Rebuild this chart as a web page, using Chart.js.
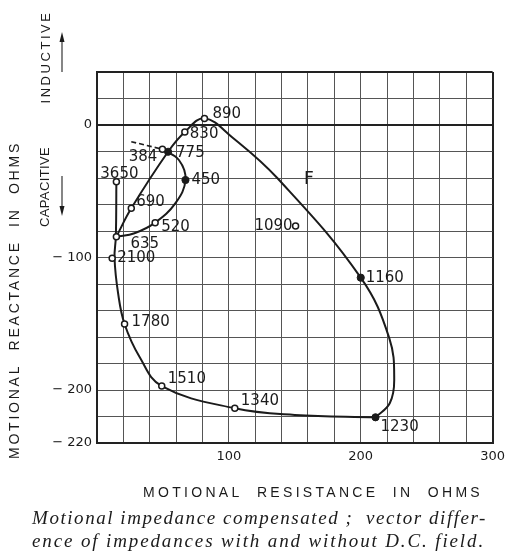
<!DOCTYPE html>
<html><head><meta charset="utf-8">
<script src="https://cdn.jsdelivr.net/npm/chart.js@4/dist/chart.umd.min.js"></script>
<style>html,body{margin:0;padding:0;background:#fff;overflow:hidden}canvas{display:block}</style>
</head><body>
<canvas id="c" width="511" height="556"></canvas>
<script>
// ---------- data ----------
// labelled measurement points (frequency, motional resistance, motional reactance)
const freqLabels = ['384','450','520','635','690','775','830','890','1090','1160','1230','1340','1510','1780','2100','3650'];
const resistance = [49.6, 67.1, 44.1, 14.7, 26.0, 53.9, 66.6, 81.5, 150.6, 200.0, 211.2, 104.5, 49.1, 20.9, 11.5, 14.7];
const reactance  = [-18.3, -41.5, -73.7, -84.3, -62.9, -20.2, -5.3, 5.0, -76.2, -115.2, -220.6, -213.8, -197.0, -150.2, -100.6, -42.8];
const filledPoints = ['450','775','1160','1230'];

// traced curve
const innerLoopR = [49.6, 62.1, 67.1, 59.5, 44.1, 28.4, 14.7];
const innerLoopX = [-18.3, -26.4, -41.5, -59.0, -73.7, -81.7, -84.3];
const outerLoopR = [14.7, 26.0, 53.9, 66.6, 81.5, 102.0, 136.9, 200.0, 221.7, 225.4, 222.0, 211.2];
const outerLoopX = [-84.3, -62.9, -20.2, -5.3, 5.0, -8.8, -40.2, -115.2, -161.0, -192.5, -210.0, -220.6];
const lowerLoopR = [211.2, 150.0, 104.5, 49.1, 32.2, 20.9, 16.0, 13.3, 14.3, 14.7];
const lowerLoopX = [-220.6, -218.8, -213.8, -197.0, -174.9, -150.2, -127.0, -100.6, -84.0, -42.8];
const dashedR = [26.0, 49.6];
const dashedX = [-12.6, -18.3];

const curveName = 'F';
const curveNameAt = [160.6, -41.5];

// axis ticks
const xTickLabels = {100: '100', 200: '200', 300: '300'};
const yTickLabels = {'0': '0', '-100': '\u2212 100', '-200': '\u2212 200', '-240': '\u2212 220'};

// texts
const xTitle = 'MOTIONAL  RESISTANCE  IN  OHMS';
const yTitle = 'MOTIONAL  REACTANCE  IN  OHMS';
const upLabel = 'INDUCTIVE';
const downLabel = 'CAPACITIVE';
const caption1 = 'Motional impedance compensated ;  vector differ-';
const caption2 = 'ence of impedances with and without D.C. field.';

// ---------- layout / styling ----------
const INK = '#1b1b1b';
const labelOffsets = { // dx, dy, align
  '384': [-5, 8, 'right'], '450': [6, 0, 'left'], '520': [6, 4, 'left'], '635': [14, 7, 'left'],
  '690': [5, -6, 'left'], '775': [8, 1, 'left'], '830': [5, 2, 'left'], '890': [8, -4, 'left'],
  '1090': [-3, 0, 'right'], '1160': [5, 0, 'left'], '1230': [5, 10, 'left'], '1340': [6, -7, 'left'],
  '1510': [6, -7, 'left'], '1780': [7, -2, 'left'], '2100': [5, 0, 'left'], '3650': [3, -8, 'center']
};

const zip = (a, b) => a.map((v, i) => ({x: v, y: b[i]}));
const allPts = zip(resistance, reactance).map((p, i) => ({...p, f: freqLabels[i]}));
const openPts = allPts.filter(p => !filledPoints.includes(p.f));
const solidPts = allPts.filter(p => filledPoints.includes(p.f));

const lineDs = (data, tension) => ({
  type: 'line', data, borderColor: INK, borderWidth: 2, pointRadius: 0, tension,
  fill: false, showLine: true, order: 2
});

function spaced(ctx, text, x, y, width) {
  ctx.letterSpacing = '0px';
  const w0 = ctx.measureText(text).width;
  ctx.letterSpacing = ((width - w0) / text.length) + 'px';
  ctx.fillText(text, x, y);
  ctx.letterSpacing = '0px';
}
function vertical(ctx, text, cx, cy, width, font) {
  ctx.save();
  ctx.translate(cx, cy);
  ctx.rotate(-Math.PI / 2);
  ctx.font = font;
  ctx.textAlign = 'left';
  ctx.textBaseline = 'middle';
  spaced(ctx, text, -width / 2, 0, width);
  ctx.restore();
}

const decor = {
  id: 'decor',
  afterDatasetsDraw(chart) {
    const ctx = chart.ctx, xs = chart.scales.x, ys = chart.scales.y;
    ctx.save();
    ctx.fillStyle = INK;
    ctx.strokeStyle = INK;
    ctx.font = '15px "DejaVu Sans"';
    ctx.textBaseline = 'middle';
    allPts.forEach(p => {
      const o = labelOffsets[p.f];
      ctx.textAlign = o[2];
      ctx.fillText(p.f, xs.getPixelForValue(p.x) + o[0], ys.getPixelForValue(p.y) + o[1]);
    });
    ctx.font = '17px "DejaVu Sans"';
    ctx.textAlign = 'center';
    ctx.fillText(curveName, xs.getPixelForValue(curveNameAt[0]), ys.getPixelForValue(curveNameAt[1]));
    ctx.restore();
  },
  afterDraw(chart) {
    const ctx = chart.ctx;
    ctx.save();
    ctx.fillStyle = INK;
    ctx.strokeStyle = '#444';
    vertical(ctx, yTitle, 15, 300, 318, '14px "Liberation Sans"');
    vertical(ctx, upLabel, 46, 57, 93, '13px "Liberation Sans"');
    vertical(ctx, downLabel, 45, 187, 80, '13px "Liberation Sans"');
    ctx.font = '14px "Liberation Sans"';
    ctx.textAlign = 'left';
    ctx.textBaseline = 'alphabetic';
    spaced(ctx, xTitle, 143, 497, 340);
    ctx.font = 'italic 19px "Liberation Serif"';
    spaced(ctx, caption1, 32, 524, 455);
    spaced(ctx, caption2, 32, 547, 453);
    ctx.lineWidth = 1.3;
    ctx.beginPath(); ctx.moveTo(62, 72); ctx.lineTo(62, 40); ctx.stroke();
    ctx.beginPath(); ctx.moveTo(62, 32); ctx.lineTo(59.5, 42); ctx.lineTo(64.5, 42); ctx.closePath(); ctx.fill();
    ctx.beginPath(); ctx.moveTo(62, 176); ctx.lineTo(62, 208); ctx.stroke();
    ctx.beginPath(); ctx.moveTo(62, 216); ctx.lineTo(59.5, 206); ctx.lineTo(64.5, 206); ctx.closePath(); ctx.fill();
    ctx.restore();
  }
};

const heavy = (v, list) => list.includes(v) ? 2 : 1;

new Chart(document.getElementById('c'), {
  type: 'scatter',
  data: {
    datasets: [
      lineDs(zip(innerLoopR, innerLoopX), 0.4),
      lineDs(zip(outerLoopR, outerLoopX), 0.4),
      lineDs(zip(lowerLoopR, lowerLoopX), 0.4),
      {type: 'line', data: zip(dashedR, dashedX), borderColor: INK, borderWidth: 1.6,
       borderDash: [5, 3], pointRadius: 0, tension: 0, order: 2},
      {data: openPts, pointRadius: 3, pointBackgroundColor: '#fff', pointBorderColor: INK,
       pointBorderWidth: 1.5, showLine: false, order: 1},
      {data: solidPts, pointRadius: 3.6, pointBackgroundColor: INK, pointBorderColor: INK,
       pointBorderWidth: 1, showLine: false, order: 1}
    ]
  },
  options: {
    responsive: false, animation: false, devicePixelRatio: 1,
    layout: {padding: {top: 72, right: 13, bottom: 83, left: 0}},
    plugins: {legend: {display: false}, tooltip: {enabled: false}},
    scales: {
      x: {
        type: 'linear', min: 0, max: 300,
        afterFit: s => { s.height = 30; },
        ticks: {stepSize: 20, autoSkip: false, maxRotation: 0, padding: 6, color: INK,
                font: {family: 'DejaVu Sans', size: 13},
                callback: v => xTickLabels[v] || ''},
        grid: {drawTicks: false, color: c => heavy(c.tick && c.tick.value, [0, 300]) > 1 ? '#222' : '#555',
               lineWidth: c => heavy(c.tick && c.tick.value, [0, 300])},
        border: {display: true, color: '#222', width: 2}
      },
      y: {
        type: 'linear', min: -240, max: 40,
        afterFit: s => { s.width = 97; },
        ticks: {stepSize: 20, autoSkip: false, padding: 5, color: INK,
                font: {family: 'DejaVu Sans', size: 13},
                callback: v => yTickLabels[String(v)] || ''},
        grid: {drawTicks: false, color: c => heavy(c.tick && c.tick.value, [0, 40, -240]) > 1 ? '#222' : '#555',
               lineWidth: c => heavy(c.tick && c.tick.value, [0, 40, -240])},
        border: {display: true, color: '#222', width: 2}
      }
    }
  },
  plugins: [decor]
});
</script>
</body></html>
